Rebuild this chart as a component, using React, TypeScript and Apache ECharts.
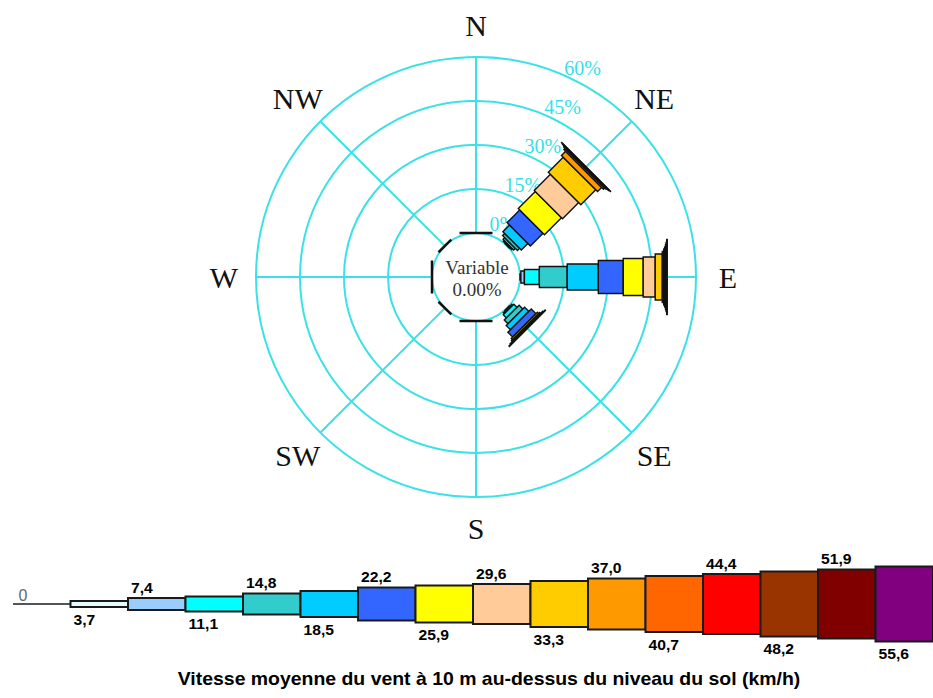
import React, { useEffect, useRef } from 'react';
import * as echarts from 'echarts';

// ---------- data ----------
const directionNames = ['N', 'NE', 'E', 'SE', 'S', 'SW', 'W', 'NW'];
const directionAngles = [0, 45, 90, 135, 180, 225, 270, 315];
const ringValues = [0, 15, 30, 45, 60];
const speedLabels = ['0', '3,7', '7,4', '11,1', '14,8', '18,5', '22,2', '25,9', '29,6', '33,3', '37,0', '40,7', '44,4', '48,2', '51,9', '55,6'];
// frequency (%) per direction for speed classes 3,7 … 55,6
const freqN = [0, 0, 0, 0, 0, 0, 0, 0, 0, 0, 0, 0, 0, 0, 0];
const freqNE = [0.2, 0.4, 0.8, 1.0, 3.2, 6.1, 8.2, 7.8, 7.2, 2.0, 0.6, 0.3, 0.2, 0.1, 0];
const freqE = [0.3, 1.2, 5.1, 9.5, 10.6, 8.5, 6.8, 4.1, 2.4, 0.5, 0.3, 0.3, 0.2, 0.2, 0.2];
const freqSE = [0.2, 0.5, 1.5, 1.8, 2.0, 2.3, 0.6, 0.4, 0.3, 0.2, 0, 0, 0, 0, 0];
const freqS = [0, 0, 0, 0, 0, 0, 0, 0, 0, 0, 0, 0, 0, 0, 0];
const freqSW = [0, 0, 0, 0, 0, 0, 0, 0, 0, 0, 0, 0, 0, 0, 0];
const freqW = [0, 0, 0, 0, 0, 0, 0, 0, 0, 0, 0, 0, 0, 0, 0];
const freqNW = [0, 0, 0, 0, 0, 0, 0, 0, 0, 0, 0, 0, 0, 0, 0];
const variableText = 'Variable';
const variableValue = '0.00%';
const titleText = 'Vitesse moyenne du vent à 10 m au-dessus du niveau du sol (km/h)';

// ---------- styles ----------
const CLASS_COLORS = ['#555555', '#e6fbfb', '#99ccff', '#00ffff', '#33cccc', '#00ccff', '#3366ff', '#ffff00', '#ffcc99', '#ffcc00', '#ff9900', '#ff6600', '#ff0000', '#993300', '#800000', '#800080'];
const CLASS_WIDTHS = [2, 6, 12, 15, 21, 26, 33, 37, 40, 46, 51, 56, 60, 65, 69, 75];
const RING_COLOR = '#3ae2e6';
const RING_LABEL_COLOR = '#36dfe8';
const SERIF = '"Liberation Serif", "Times New Roman", serif';
const SANS = '"Liberation Sans", Arial, sans-serif';

const freqByDir = [freqN, freqNE, freqE, freqSE, freqS, freqSW, freqW, freqNW];

function buildOption() {
  const barData: number[][] = [];
  const dashData: number[][] = [];
  freqByDir.forEach((f, d) => {
    const angle = directionAngles[d];
    let start = 0;
    let total = 0;
    f.forEach((v, k) => {
      if (v > 0) {
        barData.push([start, angle, k + 1, start + v]);
        start += v;
        total += v;
      }
    });
    if (total === 0) dashData.push([0, angle]);
  });

  const unit = (api: any, angle: number) => {
    const c = api.coord([0, angle]);
    const f = api.coord([60, angle]);
    let dx = f[0] - c[0];
    let dy = f[1] - c[1];
    const L = Math.hypot(dx, dy) || 1;
    dx /= L;
    dy /= L;
    return [dx, dy, -dy, dx];
  };

  return {
    animation: false,
    backgroundColor: '#ffffff',
    polar: { center: [476, 277], radius: 220 },
    angleAxis: {
      type: 'value', min: 0, max: 360, interval: 45, startAngle: 90, clockwise: true,
      axisLine: { show: false }, axisTick: { show: false }, axisLabel: { show: false }, splitLine: { show: false },
    },
    radiusAxis: {
      type: 'value', min: -15, max: 60, interval: 15,
      axisLine: { show: false }, axisTick: { show: false }, axisLabel: { show: false },
      splitLine: { show: true, lineStyle: { color: RING_COLOR, width: 2 } },
    },
    grid: { left: 13, top: 510, width: 926, height: 200 },
    xAxis: { type: 'value', min: 0, max: 16, show: false },
    yAxis: { type: 'value', min: -1, max: 1, show: false },
    graphic: [
      {
        type: 'text', x: 489, y: 679, scaleX: 1.08, scaleY: 1,
        style: { text: titleText, fill: '#000', fontFamily: SANS, fontWeight: 'bold', fontSize: 18, align: 'center', verticalAlign: 'middle' },
      },
    ],
    series: [
      {
        type: 'custom', coordinateSystem: 'polar', silent: true, z: 1,
        data: directionAngles.map((a) => [0, a]), encode: { radius: 0, angle: 1 },
        renderItem: (_p: any, api: any) => {
          const a = api.value(1);
          const s = api.coord([0, a]);
          const e = api.coord([60, a]);
          return { type: 'line', shape: { x1: s[0], y1: s[1], x2: e[0], y2: e[1] }, style: { stroke: RING_COLOR, lineWidth: 2 } };
        },
      },
      {
        type: 'custom', coordinateSystem: 'polar', silent: true, z: 2,
        data: ringValues.map((v) => [v, 27]), encode: { radius: 0, angle: 1 },
        renderItem: (_p: any, api: any) => {
          const v = api.value(0);
          const p = api.coord([v + 5.1, 27]);
          return { type: 'text', x: p[0], y: p[1], style: { text: v + '%', fill: RING_LABEL_COLOR, fontFamily: SERIF, fontSize: 20, align: 'center', verticalAlign: 'middle' } };
        },
      },
      {
        type: 'custom', coordinateSystem: 'polar', silent: true, z: 2,
        data: directionAngles.map((a) => [0, a]), encode: { radius: 0, angle: 1 },
        renderItem: (params: any, api: any) => {
          const a = api.value(1);
          const p = api.coord([70.9, a]);
          return { type: 'text', x: p[0], y: p[1], style: { text: directionNames[params.dataIndex], fill: '#111', fontFamily: SERIF, fontSize: 30, align: 'center', verticalAlign: 'middle' } };
        },
      },
      {
        type: 'custom', coordinateSystem: 'polar', silent: true, z: 3,
        data: barData, encode: { radius: 0, angle: 1 },
        renderItem: (_p: any, api: any) => {
          const a0 = api.value(0);
          const ang = api.value(1);
          const cls = api.value(2);
          const a1 = api.value(3);
          const p0 = api.coord([a0, ang]);
          const p1 = api.coord([a1, ang]);
          const [, , nx, ny] = unit(api, ang);
          const h = CLASS_WIDTHS[cls] / 2;
          return {
            type: 'polygon',
            shape: { points: [[p0[0] + nx * h, p0[1] + ny * h], [p1[0] + nx * h, p1[1] + ny * h], [p1[0] - nx * h, p1[1] - ny * h], [p0[0] - nx * h, p0[1] - ny * h]] },
            style: { fill: CLASS_COLORS[cls], stroke: '#111', lineWidth: 1.4 },
          };
        },
      },
      {
        type: 'custom', coordinateSystem: 'polar', silent: true, z: 4,
        data: dashData, encode: { radius: 0, angle: 1 },
        renderItem: (_p: any, api: any) => {
          const ang = api.value(1);
          const p = api.coord([0, ang]);
          const [, , nx, ny] = unit(api, ang);
          const h = (ang % 90 === 0 ? 33 : 18) / 2;
          return { type: 'line', shape: { x1: p[0] + nx * h, y1: p[1] + ny * h, x2: p[0] - nx * h, y2: p[1] - ny * h }, style: { stroke: '#111', lineWidth: 2.5 } };
        },
      },
      {
        type: 'custom', coordinateSystem: 'polar', silent: true, z: 4,
        data: [[-15, 0]], encode: { radius: 0, angle: 1 },
        renderItem: (_p: any, api: any) => {
          const c = api.coord([-15, 0]);
          return {
            type: 'group',
            children: [
              { type: 'text', x: c[0] + 1, y: c[1] - 10, style: { text: variableText, fill: '#333', fontFamily: SERIF, fontSize: 19, align: 'center', verticalAlign: 'middle' } },
              { type: 'text', x: c[0] + 1, y: c[1] + 12, style: { text: variableValue, fill: '#333', fontFamily: SERIF, fontSize: 19, align: 'center', verticalAlign: 'middle' } },
            ],
          };
        },
      },
      {
        type: 'custom', coordinateSystem: 'cartesian2d', silent: true, z: 3,
        data: speedLabels.map((_l, i) => [i, 0]),
        renderItem: (params: any, api: any) => {
          const i = api.value(0);
          const s = api.coord([i, 0]);
          const e = api.coord([i + 1, 0]);
          const label = speedLabels[params.dataIndex];
          if (i === 0) {
            return {
              type: 'group',
              children: [
                { type: 'line', shape: { x1: s[0], y1: s[1], x2: e[0], y2: e[1] }, style: { stroke: CLASS_COLORS[0], lineWidth: 2 } },
                { type: 'text', x: s[0] + 10, y: s[1] - 9, style: { text: label, fill: '#666', fontFamily: SANS, fontSize: 16, align: 'center', verticalAlign: 'middle' } },
              ],
            };
          }
          const h = CLASS_WIDTHS[i];
          const below = i % 2 === 1;
          return {
            type: 'group',
            children: [
              { type: 'rect', shape: { x: s[0], y: s[1] - h / 2, width: e[0] - s[0], height: h }, style: { fill: CLASS_COLORS[i], stroke: '#1a1a1a', lineWidth: 2 } },
              {
                type: 'text', x: s[0] + 3, y: below ? s[1] + h / 2 + 13 : s[1] - h / 2 - 10, scaleX: 1.12,
                style: { text: label, fill: '#000', fontFamily: SANS, fontWeight: 'bold', fontSize: 14, align: 'left', verticalAlign: 'middle' },
              },
            ],
          };
        },
      },
    ],
  };
}

export default function App() {
  const ref = useRef<HTMLDivElement>(null);
  useEffect(() => {
    if (!ref.current) return;
    const chart = echarts.init(ref.current, undefined, { renderer: 'svg' });
    chart.setOption(buildOption() as any);
    return () => chart.dispose();
  }, []);
  return <div ref={ref} style={{ position: 'fixed', left: 0, top: 0, width: 933, height: 698, background: '#fff' }} />;
}
